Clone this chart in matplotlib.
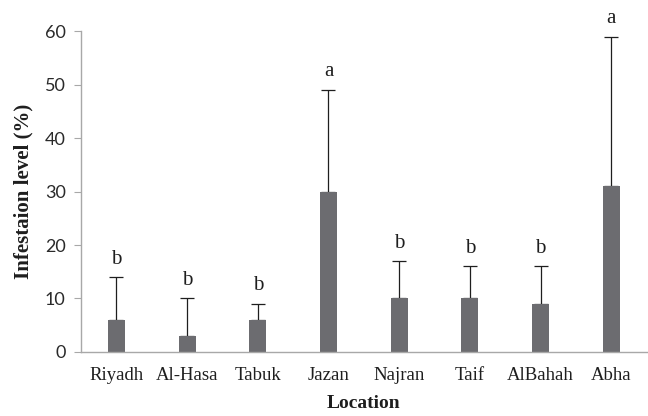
import matplotlib.pyplot as plt
import numpy as np

locations = ['Riyadh', 'Al-Hasa', 'Tabuk', 'Jazan', 'Najran', 'Taif', 'AlBahah', 'Abha']
infestation = [6, 3, 6, 30, 10, 10, 9, 31]
error_up = [8, 7, 3, 19, 7, 6, 7, 28]
letters = ['b', 'b', 'b', 'a', 'b', 'b', 'b', 'a']

fig = plt.figure(figsize=(6.48, 4.16), dpi=100)
ax = fig.add_axes([0.125, 0.154, 0.873, 0.771])

x = np.arange(len(locations))
ax.bar(x, infestation, width=0.24, color='#6c6c70', zorder=2)
ax.errorbar(x, infestation, yerr=[np.zeros(len(x)), error_up], fmt='none',
            ecolor='#1e1e1e', elinewidth=0.9, capsize=5, capthick=0.9, zorder=1)

# significance letters above each error bar
for xi, v, e, s in zip(x, infestation, error_up, letters):
    ax.text(xi, v + e + 1.6, s, ha='center', va='bottom',
            family='Liberation Serif', fontsize=15, color='#1e1e1e')

ax.set_xlim(-0.5, len(locations) - 0.5)
ax.set_ylim(0, 60)
ax.set_yticks(range(0, 61, 10))
ax.set_xticks(x)
ax.set_xticklabels(locations, family='Liberation Serif', fontsize=13.5, color='#1e1e1e')
for lbl in ax.get_yticklabels():
    lbl.set_family('Lato')
    lbl.set_fontsize(13)
    lbl.set_color('#2a2a2a')

ax.tick_params(axis='x', length=0, pad=11)
ax.tick_params(axis='y', length=5, color='#a8a8a8', pad=6)
for side in ['top', 'right']:
    ax.spines[side].set_visible(False)
for side in ['left', 'bottom']:
    ax.spines[side].set_color('#a8a8a8')
    ax.spines[side].set_linewidth(1.0)

ax.set_ylabel('Infestaion level (%)', family='Liberation Serif', fontweight='bold',
              fontsize=15, color='#1e1e1e', labelpad=8)
ax.set_xlabel('Location', family='Liberation Serif', fontweight='bold',
              fontsize=14, color='#1e1e1e', labelpad=8)

fig.savefig('out.png', dpi=100)
